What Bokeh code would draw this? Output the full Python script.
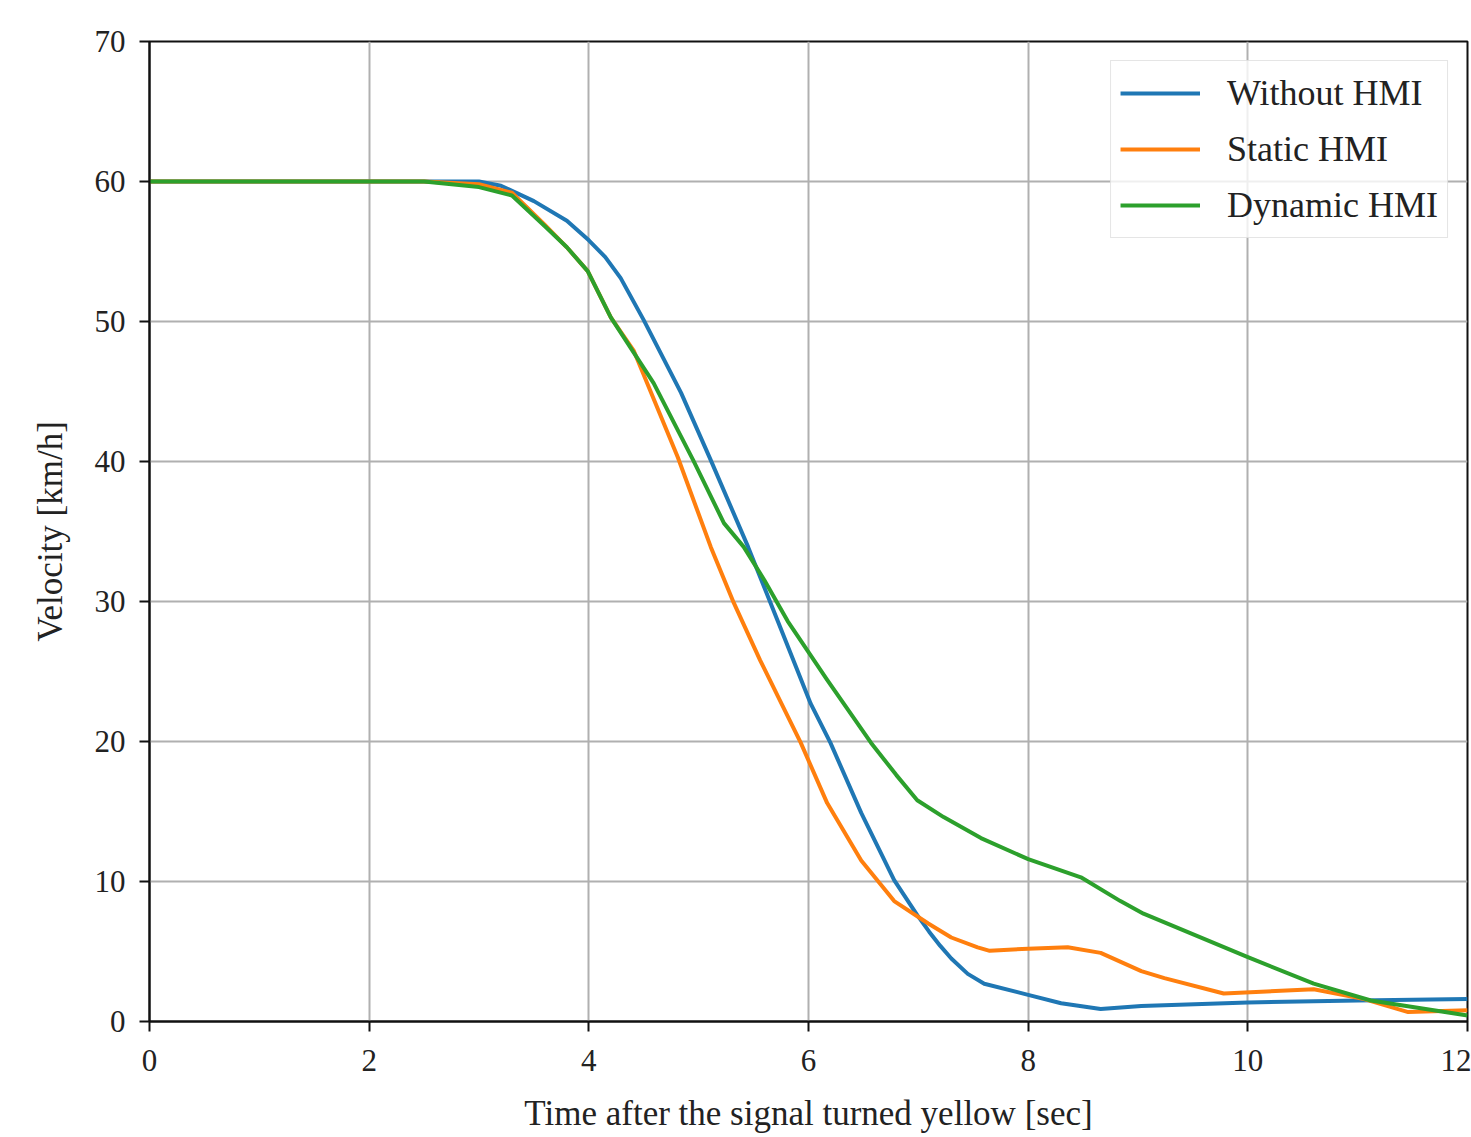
from bokeh.plotting import figure
from bokeh.models import Legend, LegendItem, Range1d, FixedTicker
from bokeh.embed import file_html
from bokeh.resources import INLINE

# ---- data ----
t_without = [0, 2.5, 3.0, 3.2, 3.5, 3.8, 4.0, 4.15, 4.29, 4.5, 4.84, 5.11, 5.45, 5.72, 6.02, 6.2,
             6.48, 6.78, 6.99, 7.1, 7.2, 7.3, 7.45, 7.6, 8.0, 8.3, 8.66, 9.03, 10.0, 11.0, 12.0]
v_without = [60, 60, 60, 59.7, 58.6, 57.2, 55.8, 54.6, 53.1, 50.1, 44.9, 40.1, 33.9, 28.6, 22.7, 19.9,
             14.9, 10.1, 7.6, 6.4, 5.4, 4.5, 3.4, 2.7, 1.9, 1.3, 0.9, 1.1, 1.36, 1.5, 1.6]

t_static = [0, 2.5, 3.0, 3.3, 3.6, 3.8, 3.99, 4.2, 4.41, 4.81, 5.11, 5.32, 5.56, 5.93, 6.17, 6.48,
            6.78, 7.09, 7.3, 7.54, 7.65, 8.0, 8.36, 8.66, 9.03, 9.24, 9.78, 10.6, 11.06, 11.46, 12.0]
v_static = [60, 60, 59.8, 59.2, 56.9, 55.3, 53.6, 50.3, 47.9, 40.3, 33.9, 29.9, 25.8, 19.9, 15.6, 11.5,
            8.6, 7.0, 6.0, 5.3, 5.05, 5.2, 5.3, 4.9, 3.6, 3.1, 2.0, 2.3, 1.6, 0.67, 0.8]

t_dynamic = [0, 2.5, 3.0, 3.3, 3.6, 3.8, 3.99, 4.2, 4.59, 4.95, 5.23, 5.41, 5.6, 5.81, 6.17, 6.57,
             6.8, 6.99, 7.23, 7.57, 8.0, 8.48, 8.84, 9.05, 10.0, 10.6, 11.12, 12.0]
v_dynamic = [60, 60, 59.6, 59.0, 56.8, 55.3, 53.6, 50.3, 45.6, 40.1, 35.6, 33.9, 31.5, 28.6, 24.4, 19.9,
             17.6, 15.8, 14.6, 13.1, 11.6, 10.3, 8.6, 7.7, 4.6, 2.7, 1.5, 0.43]

series_names = ["Without HMI", "Static HMI", "Dynamic HMI"]
series_colors = ["#1f77b4", "#ff7f0e", "#2ca02c"]
x_ticks = [0, 2, 4, 6, 8, 10, 12]
y_ticks = [0, 10, 20, 30, 40, 50, 60, 70]

FONT = "Liberation Serif"

p = figure(width=1471, height=1137, output_backend="svg", toolbar_location=None,
           x_range=Range1d(0, 12), y_range=Range1d(0, 70),
           min_border_left=149, min_border_right=4, min_border_top=41, min_border_bottom=116)

p.background_fill_color = "white"
p.border_fill_color = "white"
p.outline_line_color = "#111111"
p.outline_line_width = 2

renderers = []
for (t, v), c in zip([(t_without, v_without), (t_static, v_static), (t_dynamic, v_dynamic)], series_colors):
    r = p.line(t, v, line_color=c, line_width=4, line_join="round")
    renderers.append(r)

p.xaxis.ticker = FixedTicker(ticks=x_ticks)
p.yaxis.ticker = FixedTicker(ticks=y_ticks)

for ax in (p.xaxis, p.yaxis):
    ax.axis_line_color = "#111111"
    ax.axis_line_width = 2
    ax.major_tick_line_color = "#111111"
    ax.major_tick_line_width = 2
    ax.major_tick_out = 10
    ax.major_tick_in = 0
    ax.minor_tick_line_color = None
    ax.major_label_text_font = FONT
    ax.major_label_text_font_size = "31px"
    ax.major_label_text_color = "#222222"
    ax.axis_label_text_font = FONT
    ax.axis_label_text_font_size = "35px"
    ax.axis_label_text_font_style = "normal"
    ax.axis_label_text_color = "#222222"

p.xaxis.major_label_standoff = 18
p.yaxis.major_label_standoff = 14
p.xaxis.axis_label = "Time after the signal turned yellow [sec]"
p.yaxis.axis_label = "Velocity [km/h]"
p.xaxis.axis_label_standoff = 20
p.yaxis.axis_label_standoff = 22

p.grid.grid_line_color = "#b0b0b0"
p.grid.grid_line_width = 2

legend = Legend(items=[LegendItem(label=n, renderers=[r]) for n, r in zip(series_names, renderers)],
                location="top_right")
legend.margin = 19
legend.padding = 9
legend.spacing = 10
legend.glyph_width = 80
legend.glyph_height = 46
legend.label_height = 46
legend.label_standoff = 27
legend.label_text_font = FONT
legend.label_text_font_size = "36px"
legend.label_text_color = "#222222"
legend.border_line_color = "#cccccc"
legend.border_line_width = 1.5
legend.background_fill_color = "white"
legend.background_fill_alpha = 0.8
p.add_layout(legend)

open("out.html", "w").write(file_html(p, INLINE))
